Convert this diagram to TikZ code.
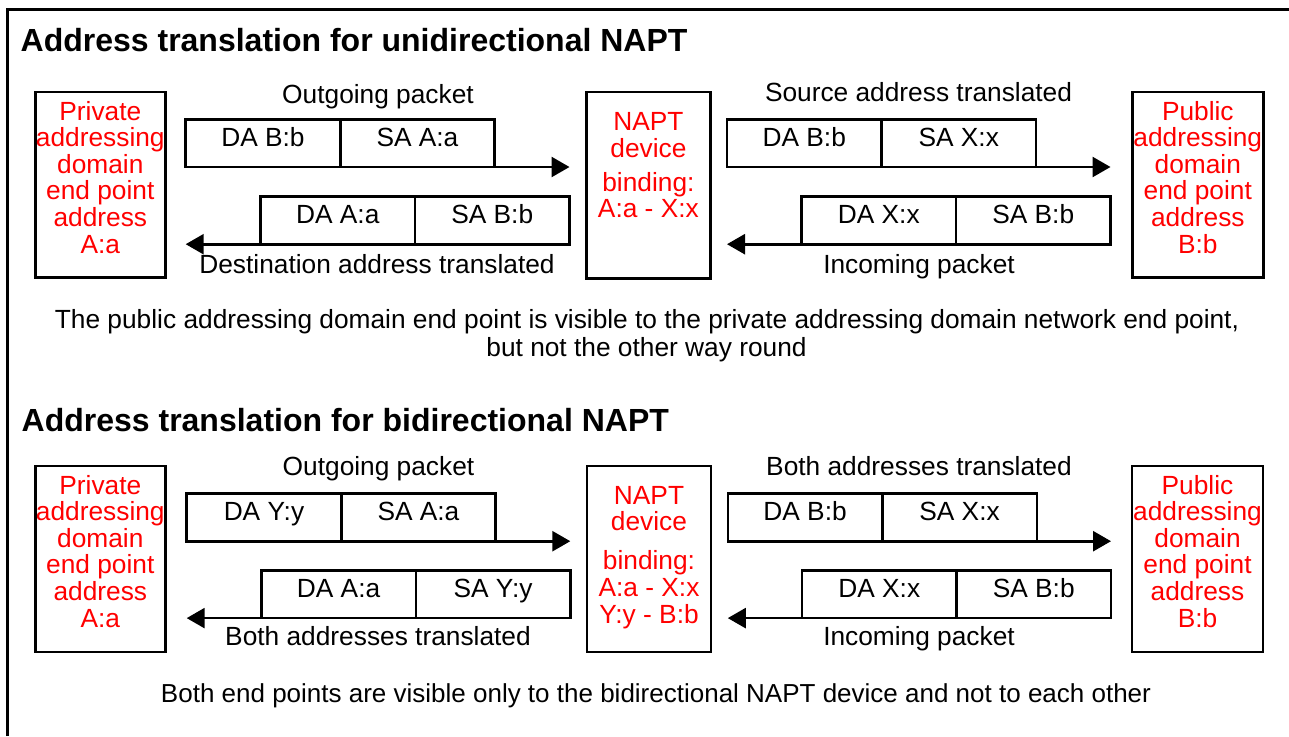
\documentclass[tikz,border=0pt]{standalone}
\usepackage{fontspec}
\setmainfont{Liberation Sans}
\usetikzlibrary{arrows.meta}
\definecolor{epred}{RGB}{255,0,0}
% centred lines whose baseline is the baseline of the first line
\newcommand\linestack[2]{\vtop{\baselineskip=#1pt\lineskiplimit=-100pt\halign{\hfil##\hfil\cr#2\crcr}}}

\begin{document}
\begin{tikzpicture}[x=1pt,y=-1pt,
  bodyfont/.style={font=\fontsize{26.3}{26.6}\selectfont},
  box/.style={draw, line width=2.6pt, inner sep=0pt, outer sep=0pt, anchor=north west},
  cell/.style={draw, line width=2.6pt, inner sep=0pt, outer sep=0pt, bodyfont,
               minimum width=154.5pt, text height=27pt, text depth=20.5pt},
  lbl/.style={inner sep=0pt, outer sep=0pt, anchor=base, bodyfont},
  redtxt/.style={lbl, text=epred},
  ttl/.style={inner sep=0pt, outer sep=0pt, anchor=base west, font=\fontsize{32}{38}\selectfont\bfseries},
  flow/.style={line width=2.6pt, -{Triangle[length=18pt,width=20pt]}}]
\useasboundingbox (0,0) rectangle (1289,736);

% outer frame
\draw[line width=2.7pt] (7.3,736) -- (7.3,9.7) -- (1289,9.7);

% ---------------- unidirectional NAPT ----------------
\node[ttl] (t1) at (20.7,51.7) {Address translation for unidirectional NAPT};

\node[box, minimum width=130pt, minimum height=185.3pt] (pa1) at (35.3,92) {};
\node[redtxt] (pa1t) at (100.3,120) {\linestack{26.6}{Private\cr addressing\cr domain\cr end point\cr address\cr A:a}};

\node[lbl] (out1) at (378,103.7) {Outgoing packet};
\node[cell, anchor=north west] (o1da) at (185.7,119.5) {DA B:b};
\node[cell, anchor=west] (o1sa) at (o1da.east) {SA A:a};
\node[cell, anchor=north west] (d1da) at (260.5,196.7) {DA A:a};
\node[cell, anchor=west] (d1sa) at (d1da.east) {SA B:b};
\node[lbl] (dst1) at (377,273.7) {Destination address translated};
\draw[flow] (o1da.south west) -- (o1da.south west -| d1sa.east);
\draw[flow] (d1sa.south east) -- (d1sa.south east -| o1da.west);

\node[box, minimum width=124.3pt, minimum height=186.3pt] (nat1) at (586.2,92) {};
\node[redtxt] (nat1a) at (648.4,130.7) {\linestack{26.6}{NAPT\cr device}};
\node[redtxt] (nat1b) at (648.4,191) {\linestack{26.6}{binding:\cr A:a - X:x}};

\node[lbl] (src1) at (918.5,101.7) {Source address translated};
\node[cell, anchor=north west] (s1da) at (727,119.5) {DA B:b};
\node[cell, anchor=west] (s1sa) at (s1da.east) {SA X:x};
\node[cell, anchor=north west] (i1da) at (801.5,196.7) {DA X:x};
\node[cell, anchor=west] (i1sa) at (i1da.east) {SA B:b};
\node[lbl] (inc1) at (919,273.5) {Incoming packet};
\draw[flow] (s1da.south west) -- (s1da.south west -| i1sa.east);
\draw[flow] (i1sa.south east) -- (i1sa.south east -| s1da.west);

\node[box, minimum width=131.3pt, minimum height=185.3pt] (pb1) at (1132.2,92) {};
\node[redtxt] (pb1t) at (1197.8,120) {\linestack{26.6}{Public\cr addressing\cr domain\cr end point\cr address\cr B:b}};

\node[lbl] (note1a) at (647,328.3) {The public addressing domain end point is visible to the private addressing domain network end point,};
\node[lbl] (note1b) at (646.5,356) {but not the other way round};

% ---------------- bidirectional NAPT ----------------
\node[ttl] (t2) at (21.7,431.7) {Address translation for bidirectional NAPT};

\node[box, minimum width=130pt, minimum height=186pt] (pa2) at (35.3,466) {};
\node[redtxt] (pa2t) at (100.3,494) {\linestack{26.6}{Private\cr addressing\cr domain\cr end point\cr address\cr A:a}};

\node[lbl] (out2) at (378.5,475.7) {Outgoing packet};
\node[cell, anchor=north west] (o2da) at (186.7,493.7) {DA Y:y};
\node[cell, anchor=west] (o2sa) at (o2da.east) {SA A:a};
\node[cell, anchor=north west] (d2da) at (261.3,570.6) {DA A:a};
\node[cell, anchor=west] (d2sa) at (d2da.east) {SA Y:y};
\node[lbl] (dst2) at (378,645.7) {Both addresses translated};
\draw[flow] (o2da.south west) -- (o2da.south west -| d2sa.east);
\draw[flow] (d2sa.south east) -- (d2sa.south east -| o2da.west);

\node[box, minimum width=124pt, minimum height=186pt] (nat2) at (587,466) {};
\node[redtxt] (nat2a) at (649,504) {\linestack{26.6}{NAPT\cr device}};
\node[redtxt] (nat2b) at (649,569.3) {\linestack{27}{binding:\cr A:a - X:x\cr Y:y - B:b}};

\node[lbl] (src2) at (919,475) {Both addresses translated};
\node[cell, anchor=north west] (s2da) at (727.8,493.7) {DA B:b};
\node[cell, anchor=west] (s2sa) at (s2da.east) {SA X:x};
\node[cell, anchor=north west] (i2da) at (802,570.6) {DA X:x};
\node[cell, anchor=west] (i2sa) at (i2da.east) {SA B:b};
\node[lbl] (inc2) at (919,645) {Incoming packet};
\draw[flow] (s2da.south west) -- (s2da.south west -| i2sa.east);
\draw[flow] (i2sa.south east) -- (i2sa.south east -| s2da.west);

\node[box, minimum width=131pt, minimum height=186pt] (pb2) at (1132,466) {};
\node[redtxt] (pb2t) at (1197.5,494) {\linestack{26.6}{Public\cr addressing\cr domain\cr end point\cr address\cr B:b}};

\node[lbl, font=\fontsize{26}{26.6}\selectfont] (note2) at (656,702) {Both end points are visible only to the bidirectional NAPT device and not to each other};
\end{tikzpicture}
\end{document}
